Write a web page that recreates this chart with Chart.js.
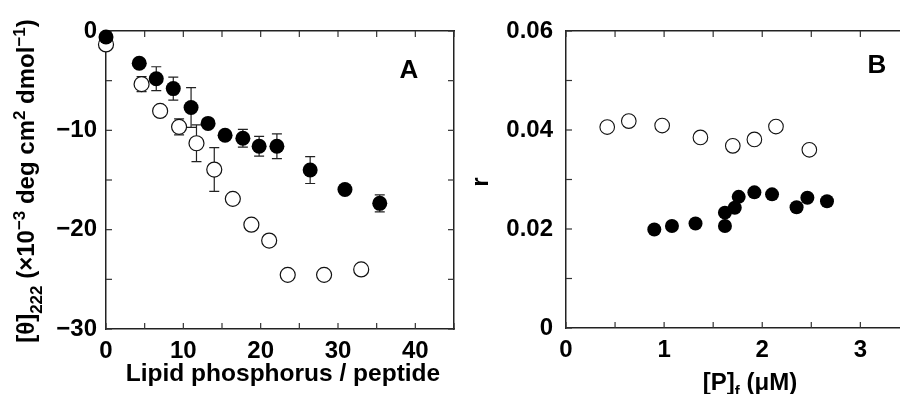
<!DOCTYPE html>
<html>
<head>
<meta charset="utf-8">
<script src="https://cdn.jsdelivr.net/npm/chart.js@4.4.0/dist/chart.umd.min.js"></script>
<style>
  html, body { margin: 0; padding: 0; background: #fff; overflow: hidden; }
  body { width: 906px; height: 394px; position: relative; }
  canvas { position: absolute; top: 0; }
  #chartA { left: 0; }
  #chartB { left: 460px; }
</style>
</head>
<body>
<canvas id="chartA" width="470" height="394"></canvas>
<canvas id="chartB" width="448" height="394"></canvas>
<script>
// Panel A: ellipticity vs lipid/peptide ratio
const filledXA = [0, 4.3, 6.5, 8.7, 11.0, 13.2, 15.4, 17.7, 19.8, 22.1, 26.4, 30.9, 35.4];
const filledYA = [-0.6, -3.25, -4.8, -5.8, -7.7, -9.3, -10.5, -10.8, -11.6, -11.6, -14.0, -15.95, -17.35];
const filledErrA = [null, null, 1.2, 1.15, 2.0, null, null, 0.9, 1.0, 1.25, 1.35, null, 0.85];
const openXA = [0, 4.6, 7.0, 9.45, 11.7, 14.0, 16.4, 18.8, 21.1, 23.5, 28.2, 33.0];
const openYA = [-1.35, -5.35, -8.05, -9.65, -11.3, -13.95, -16.9, -19.5, -21.1, -24.55, -24.55, -24.0];
const openErrA = [null, 0.75, null, 0.8, 1.85, 2.2, null, null, null, null, null, null];

// Panel B: r vs free peptide
const openXB = [0.42, 0.64, 0.98, 1.37, 1.70, 1.92, 2.14, 2.48];
const openYB = [0.0406, 0.0418, 0.0409, 0.0385, 0.0368, 0.0381, 0.0407, 0.0360];
const filledXB = [0.90, 1.08, 1.32, 1.62, 1.62, 1.72, 1.76, 1.92, 2.10, 2.35, 2.46, 2.66];
const filledYB = [0.0199, 0.0206, 0.0211, 0.0233, 0.0206, 0.0243, 0.0265, 0.0274, 0.0270, 0.0244, 0.0263, 0.0256];
const xTicksB = [0, 0.5, 1, 1.5, 2, 2.5, 3];

const fam = '"Liberation Sans", Arial, sans-serif';
const tickFont = { family: fam, size: 24, weight: 'bold' };
const signed = v => (v < 0 ? '\u2212' + Math.abs(v) : String(v));
const pts = (xs, ys) => xs.map((x, i) => ({ x: x, y: ys[i] }));

// inward tick marks on every side
const innerTicks = {
  id: 'innerTicks',
  beforeDatasetsDraw(chart) {
    const { ctx, chartArea: a } = chart;
    ctx.save();
    ctx.strokeStyle = '#333';
    ctx.lineWidth = 1.2;
    Object.values(chart.scales).forEach(s => {
      s.ticks.forEach(t => {
        const p = s.getPixelForValue(t.value);
        ctx.beginPath();
        if (s.position === 'bottom') { ctx.moveTo(p, a.bottom); ctx.lineTo(p, a.bottom - 6); }
        if (s.position === 'top') { ctx.moveTo(p, a.top); ctx.lineTo(p, a.top + 6); }
        if (s.position === 'left') { ctx.moveTo(a.left, p); ctx.lineTo(a.left + 6, p); }
        if (s.position === 'right') { ctx.moveTo(a.right, p); ctx.lineTo(a.right - 6, p); }
        ctx.stroke();
      });
    });
    ctx.restore();
  }
};

const errorBars = {
  id: 'errorBars',
  beforeDatasetsDraw(chart) {
    const { ctx } = chart;
    const xs = chart.scales.x, ys = chart.scales.y;
    ctx.save();
    ctx.strokeStyle = '#222';
    ctx.lineWidth = 1.2;
    chart.data.datasets.forEach(ds => {
      if (!ds.errors) return;
      ds.data.forEach((pt, i) => {
        const e = ds.errors[i];
        if (e == null) return;
        const px = xs.getPixelForValue(pt.x);
        const top = ys.getPixelForValue(pt.y + e);
        const bot = ys.getPixelForValue(pt.y - e);
        ctx.beginPath();
        ctx.moveTo(px, top); ctx.lineTo(px, bot);
        ctx.moveTo(px - 5, top); ctx.lineTo(px + 5, top);
        ctx.moveTo(px - 5, bot); ctx.lineTo(px + 5, bot);
        ctx.stroke();
      });
    });
    ctx.restore();
  }
};

// axis titles with sub/superscripts, drawn as canvas text
function richText(ctx, item) {
  ctx.save();
  ctx.fillStyle = '#000';
  ctx.textBaseline = 'alphabetic';
  ctx.textAlign = 'left';
  let total = 0;
  item.parts.forEach(p => {
    ctx.font = 'bold ' + p.size + 'px ' + fam;
    p.w = ctx.measureText(p.t).width;
    total += p.w;
  });
  ctx.translate(item.x, item.y);
  if (item.rotate) ctx.rotate(item.rotate);
  let cx = -total / 2;
  item.parts.forEach(p => {
    ctx.font = 'bold ' + p.size + 'px ' + fam;
    ctx.fillText(p.t, cx, p.dy || 0);
    cx += p.w;
  });
  ctx.restore();
}

const labels = {
  id: 'labels',
  afterDraw(chart, args, opts) {
    opts.items.forEach(item => richText(chart.ctx, item));
  }
};

function frameScales(cfg) {
  const border = { color: '#222', width: 1.5 };
  const grid = { drawOnChartArea: false, drawTicks: false };
  const s = {
    x: {
      type: 'linear', position: 'bottom', min: cfg.xmin, max: cfg.xmax,
      afterFit: sc => { sc.height = cfg.bottom; },
      afterBuildTicks: cfg.xticks ? sc => { sc.ticks = cfg.xticks.map(v => ({ value: v })); } : undefined,
      grid: grid, border: border,
      ticks: { stepSize: cfg.xstep, padding: 8, color: '#000', font: tickFont,
        autoSkip: false, maxRotation: 0, callback: cfg.xlab }
    },
    x2: {
      type: 'linear', axis: 'x', position: 'top', min: cfg.xmin, max: cfg.xmax,
      afterFit: sc => { sc.height = cfg.top; },
      afterBuildTicks: cfg.xticks ? sc => { sc.ticks = cfg.xticks.map(v => ({ value: v })); } : undefined,
      grid: grid, border: border,
      ticks: { stepSize: cfg.xstep, display: false }
    },
    y: {
      type: 'linear', position: 'left', min: cfg.ymin, max: cfg.ymax,
      afterFit: sc => { sc.width = cfg.left; },
      grid: grid, border: border,
      ticks: { stepSize: cfg.ystep, padding: cfg.ypad, color: '#000', font: tickFont,
        autoSkip: false, callback: cfg.ylab }
    }
  };
  if (cfg.right) {
    s.y2 = {
      type: 'linear', axis: 'y', position: 'right', min: cfg.ymin, max: cfg.ymax,
      afterFit: sc => { sc.width = cfg.right; },
      grid: grid, border: border,
      ticks: { stepSize: cfg.ystep, display: false }
    };
  }
  return s;
}

new Chart(document.getElementById('chartA'), {
  type: 'scatter',
  data: {
    datasets: [
      { data: pts(filledXA, filledYA), errors: filledErrA, pointRadius: 7.5, clip: false,
        pointBackgroundColor: '#000', pointBorderColor: '#000', pointBorderWidth: 0 },
      { data: pts(openXA, openYA), errors: openErrA, pointRadius: 7.5, clip: false,
        pointBackgroundColor: '#fff', pointBorderColor: '#111', pointBorderWidth: 1.2 }
    ]
  },
  options: {
    responsive: false, animation: false,
    layout: { padding: 0 },
    scales: frameScales({
      xmin: 0, xmax: 45, xstep: 5, ymin: -30, ymax: 0, ystep: 5,
      bottom: 65, top: 31, left: 106, right: 16, ypad: 9,
      xlab: v => (v % 10 === 0 ? String(v) : ''),
      ylab: v => (v % 10 === 0 ? signed(v) : '')
    }),
    plugins: {
      legend: { display: false }, tooltip: { enabled: false },
      labels: { items: [
        { x: 283, y: 381, parts: [{ t: 'Lipid phosphorus / peptide', size: 24.5 }] },
        { x: 34, y: 181, rotate: -Math.PI / 2, parts: [
          { t: '[\u03b8]', size: 24 }, { t: '222', size: 17, dy: 8 },
          { t: ' (\u00d710', size: 24 }, { t: '\u22123', size: 17, dy: -9 },
          { t: ' deg cm', size: 24 }, { t: '2', size: 17, dy: -9 },
          { t: ' dmol', size: 24 }, { t: '\u22121', size: 17, dy: -9 },
          { t: ')', size: 24 }
        ] },
        { x: 409, y: 78, parts: [{ t: 'A', size: 26 }] }
      ] }
    }
  },
  plugins: [innerTicks, errorBars, labels]
});

new Chart(document.getElementById('chartB'), {
  type: 'scatter',
  data: {
    datasets: [
      { data: pts(filledXB, filledYB), pointRadius: 7, clip: false,
        pointBackgroundColor: '#000', pointBorderColor: '#000', pointBorderWidth: 0 },
      { data: pts(openXB, openYB), pointRadius: 7.3, clip: false,
        pointBackgroundColor: '#fff', pointBorderColor: '#111', pointBorderWidth: 1.1 }
    ]
  },
  options: {
    responsive: false, animation: false,
    layout: { padding: 0 },
    scales: frameScales({
      xmin: 0, xmax: 3.4, xstep: 0.5, ymin: 0, ymax: 0.06, ystep: 0.01,
      bottom: 66, top: 31, left: 106, right: 0, ypad: 13, xticks: xTicksB,
      xlab: v => (Math.abs(v - Math.round(v)) < 1e-6 ? String(Math.round(v)) : ''),
      ylab: v => {
        const k = Math.round(v * 100);
        if (k % 2 !== 0) return '';
        return k === 0 ? '0' : (k / 100).toFixed(2);
      }
    }),
    plugins: {
      legend: { display: false }, tooltip: { enabled: false },
      labels: { items: [
        { x: 290, y: 390, parts: [
          { t: '[P]', size: 24 }, { t: 'f', size: 15, dy: 6 }, { t: ' (\u03bcM)', size: 24 }
        ] },
        { x: 28, y: 182, rotate: -Math.PI / 2, parts: [{ t: 'r', size: 24 }] },
        { x: 417, y: 73, parts: [{ t: 'B', size: 26 }] }
      ] }
    }
  },
  plugins: [innerTicks, labels]
});
</script>
</body>
</html>
